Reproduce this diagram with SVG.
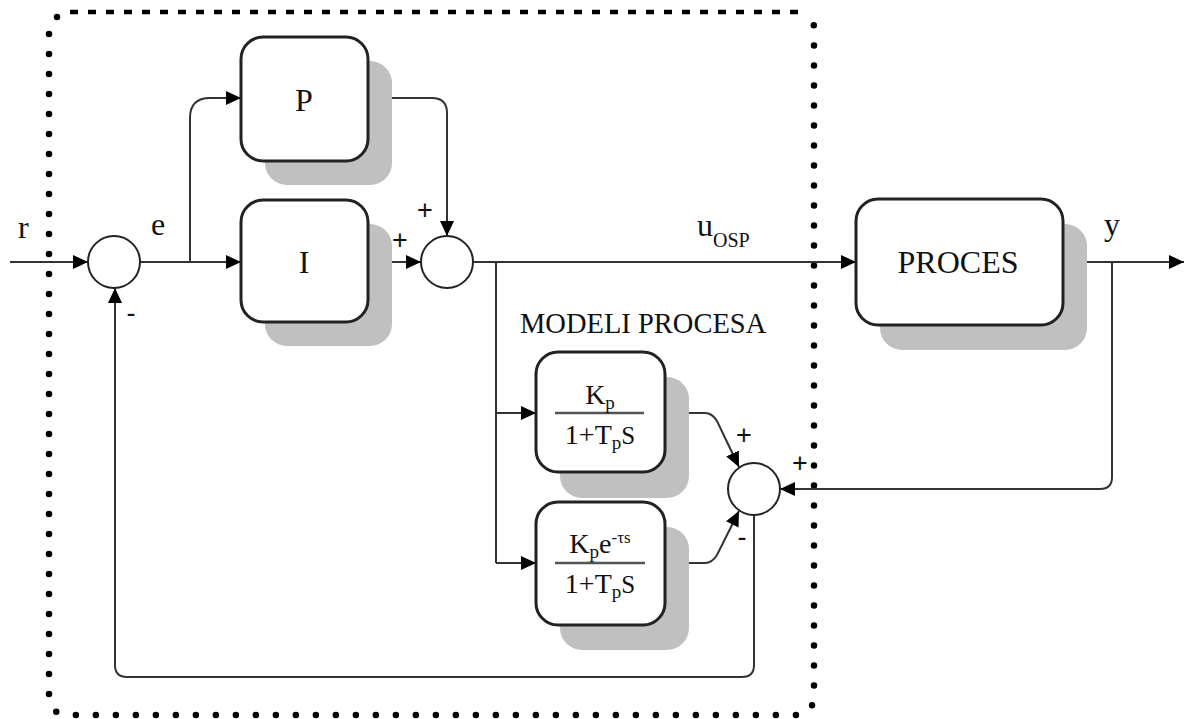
<svg xmlns="http://www.w3.org/2000/svg" width="1185" height="719" viewBox="0 0 1185 719">
<style>
text{font-family:"Liberation Serif","Times New Roman",serif;fill:#111}
.box{fill:#fff;stroke:#222;stroke-width:3}
.sh{fill:#c0c0c0}
.sum{fill:#fff;stroke:#222;stroke-width:2}
.ln{fill:none;stroke:#333;stroke-width:2}
.arr{marker-end:url(#ah)}
.frac{stroke:#555;stroke-width:2.5}
.big{font-size:32px}
.sign{font-family:"Liberation Sans",Arial,sans-serif;font-size:27px}
.ft{font-size:28px}
</style>
<defs>
<marker id="ah" markerWidth="16" markerHeight="14" refX="15" refY="7" orient="auto" markerUnits="userSpaceOnUse">
<path d="M0 0 L15 7 L0 14 z" fill="#000"/>
</marker>
</defs>
<rect width="1185" height="719" fill="#fff"/>
<g id="boundary">
<path d="M70 12 H800" fill="none" stroke="#000" stroke-width="4.5" stroke-dasharray="8 10"/>
<path d="M57 17 Q49 20 49 35 V695 Q49 715 69 715 H795 Q810 715 814 700 V30 Q814 14 806 12" fill="none" stroke="#000" stroke-width="6.5" stroke-linecap="round" stroke-dasharray="0 20"/>
</g>
<g id="connectors">
<path class="ln arr" d="M10 262 H88"/>
<path class="ln arr" d="M140 262 H241"/>
<path class="ln arr" d="M190 262 V118 Q190 98 210 98 H241"/>
<path class="ln arr" d="M368 262 H421"/>
<path class="ln arr" d="M368 98 H432 Q447 98 447 113 V236"/>
<path class="ln arr" d="M473 262 H856"/>
<path class="ln" d="M496 262 V563"/>
<path class="ln arr" d="M496 413 H536"/>
<path class="ln arr" d="M496 563 H536"/>
<path class="ln arr" d="M665 413 H705 Q712 413 717 421 L739 467"/>
<path class="ln arr" d="M665 563 H705 Q712 563 717 555 L739 511"/>
<path class="ln arr" d="M1063 262 H1184"/>
<path class="ln arr" d="M1112 262 V477 Q1112 489 1100 489 H780"/>
<path class="ln arr" d="M754 515 V665 Q754 677 742 677 H127 Q115 677 115 665 V288"/>
</g>
<g id="sum1"><circle class="sum" cx="114" cy="262" r="26"/></g>
<g id="sum2"><circle class="sum" cx="447" cy="262" r="26"/></g>
<g id="sum3"><circle class="sum" cx="754" cy="489" r="26"/></g>
<g id="P">
<rect class="sh" x="265" y="61" width="127" height="124" rx="22"/>
<rect class="box" x="241" y="37" width="127" height="124" rx="22"/>
<text class="big" x="304" y="111" text-anchor="middle">P</text>
</g>
<g id="I">
<rect class="sh" x="265" y="224" width="127" height="122" rx="22"/>
<rect class="box" x="241" y="200" width="127" height="122" rx="22"/>
<text class="big" x="304" y="273" text-anchor="middle">I</text>
</g>
<g id="PROCES">
<rect class="sh" x="880" y="224" width="207" height="126" rx="22"/>
<rect class="box" x="856" y="199" width="207" height="126" rx="22"/>
<text class="big" x="958" y="273" text-anchor="middle">PROCES</text>
</g>
<g id="model1">
<rect class="sh" x="560" y="377" width="129" height="121" rx="22"/>
<rect class="box" x="536" y="352" width="129" height="120" rx="22"/>
<line class="frac" x1="555" y1="413" x2="644" y2="413"/>
<text class="ft" x="600" y="404" text-anchor="middle">K<tspan font-size="19" dy="5">p</tspan></text>
<text class="ft" x="600" y="444" text-anchor="middle">1+T<tspan font-size="19" dy="5">p</tspan><tspan font-size="25" dy="-5">S</tspan></text>
</g>
<g id="model2">
<rect class="sh" x="560" y="527" width="129" height="123" rx="22"/>
<rect class="box" x="536" y="502" width="129" height="123" rx="22"/>
<line class="frac" x1="555" y1="563" x2="645" y2="563"/>
<text class="ft" x="600" y="553" text-anchor="middle">K<tspan font-size="19" dy="5">p</tspan><tspan dy="-5">e</tspan><tspan font-size="17" dy="-10">-τs</tspan></text>
<text class="ft" x="600" y="593" text-anchor="middle">1+T<tspan font-size="19" dy="5">p</tspan><tspan font-size="25" dy="-5">S</tspan></text>
</g>
<g id="labels">
<text class="big" x="18" y="238">r</text>
<text class="big" x="151" y="235">e</text>
<text class="sign" x="425" y="219" text-anchor="middle">+</text>
<text class="sign" x="400" y="249" text-anchor="middle">+</text>
<text class="sign" x="131" y="322" text-anchor="middle">-</text>
<text class="big" x="697" y="236">u<tspan font-size="20" dy="11">OSP</tspan></text>
<text x="520" y="333" font-size="28.5">MODELI PROCESA</text>
<text class="big" x="1104" y="235">y</text>
<text class="sign" x="744" y="444" text-anchor="middle">+</text>
<text class="sign" x="742" y="546" text-anchor="middle">-</text>
<text class="sign" x="800" y="472" text-anchor="middle">+</text>
</g>
</svg>
